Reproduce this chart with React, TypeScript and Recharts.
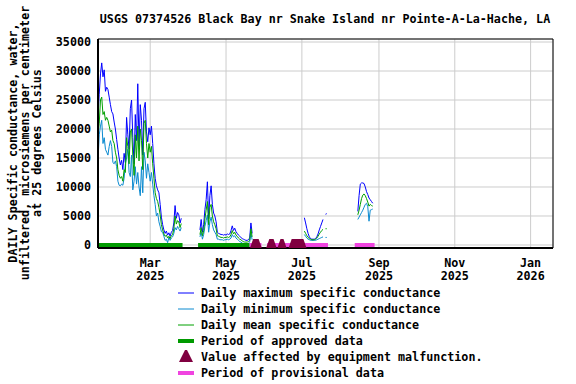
import React from "react";
import {
  ComposedChart, Line, Scatter, XAxis, YAxis, CartesianGrid, ReferenceArea,
} from "recharts";

const FONT = "'DejaVu Sans Mono', monospace";

// x is counted in days from 2025-01-18
const dayMin = 0;
const dayMax = 366;
const tickDays = [42, 103, 164, 226, 287, 348];
const tickMonths = ["Mar", "May", "Jul", "Sep", "Nov", "Jan"];
const tickYears = ["2025", "2025", "2025", "2025", "2025", "2026"];
const yTicks = [0, 5000, 10000, 15000, 20000, 25000, 30000, 35000];

// daily values, microsiemens/cm
const seg1Start = 0;
const seg1Max = [22000, 26000, 29500, 31400, 29000, 30200, 26500, 27200, 26800, 25500, 24200, 23000, 22600, 21200, 20000, 18200, 16500, 15000, 13800, 14600, 13000, 15800, 14200, 22000, 19000, 16500, 23500, 25000, 18500, 14000, 22500, 18000, 27800, 17000, 24200, 21500, 15500, 23500, 24600, 19500, 17800, 20200, 19000, 20500, 17500, 14000, 11500, 10200, 9500, 9000, 7000, 4800, 3500, 2600, 2000, 2400, 1700, 2100, 1500, 2200, 2500, 3800, 6800, 4600, 5600, 5200, 3800, 4600];
const seg1Mean = [19000, 21000, 25000, 25500, 22500, 23000, 21500, 22000, 21500, 20500, 19500, 19800, 18000, 17500, 16000, 15000, 13000, 12000, 11500, 11800, 11000, 13000, 12500, 18500, 17000, 14000, 19500, 20000, 15500, 12000, 19000, 15000, 20500, 14500, 20000, 18000, 13000, 21000, 21500, 17500, 15000, 17500, 16000, 17000, 14000, 11500, 9000, 8000, 7500, 6500, 5200, 3500, 2600, 1900, 1500, 1700, 1200, 1500, 1100, 1600, 1800, 2800, 5000, 3600, 4200, 4000, 3000, 3700];
const seg1Min = [14500, 19000, 20500, 21500, 17500, 18500, 16500, 16000, 15500, 17000, 18000, 17000, 14200, 14000, 14500, 13500, 11000, 10300, 10200, 10500, 10300, 11500, 14000, 15000, 16500, 12500, 11800, 15500, 9500, 11000, 13500, 10500, 12500, 10000, 8500, 13500, 9000, 16000, 14500, 11500, 14000, 12500, 11000, 12500, 10500, 8500, 7000, 5000, 5500, 4000, 3200, 2300, 2200, 1500, 800, 1000, 400, 1300, 800, 1200, 1400, 2000, 3000, 2600, 3200, 2800, 2400, 3000];

const seg2Start = 82;
const seg2Max = [2600, 4400, 2200, 3500, 6100, 7800, 10900, 4500, 8500, 10200, 7000, 5500, 5000, 4000, 2200, 2000, 1900, 1800, 1800, 1700, 1800, 1700, 1900, 1800, 1900, 2500, 3300, 2500, 2900, 2300, 2000, 1700, 1500, 1300, 1100, 1000, 900, 800, 800, 900, 1200, 3800, 2000];
const seg2Mean = [1800, 3000, 1600, 2500, 4500, 6000, 7500, 3500, 6500, 7000, 5000, 4000, 3500, 2800, 1600, 1500, 1400, 1300, 1300, 1200, 1300, 1300, 1400, 1300, 1400, 1800, 2500, 1900, 2200, 1700, 1500, 1200, 1000, 900, 700, 600, 500, 500, 500, 600, 800, 2800, 1400];
const seg2Min = [1400, 2200, 1000, 1800, 3200, 4200, 5200, 2200, 4000, 4800, 3500, 2600, 2200, 1800, 1000, 1000, 900, 900, 900, 800, 900, 900, 1000, 900, 1000, 1200, 1800, 1400, 1600, 1200, 1000, 800, 600, 500, 300, 300, 200, 200, 200, 300, 500, 2000, 900];

const seg3Start = 166;
const seg3Max = [4700, 3800, 2800, 2000, 1400, 1100, 1000, 1000, 1000, 1100, 1400, 1900, 2600, 3200, 3800, 4400, null, 5300, 5400];
const seg3Mean = [2400, 2000, 1600, 1300, 1100, 1000, 900, 900, 900, 1000, 1200, 1500, 1900, 2200, 2500, 2700, null, 2800, 2800];
const seg3Min = [1800, 1500, 1200, 1000, 900, 800, 800, 800, 800, 800, 900, 1000, 1100, 1200, 1300, 1400, null, 1300, 1300];

const seg4Start = 209;
const seg4Max = [5800, 8500, 10500, 10700, 10700, 10600, 10000, 9200, 8700, 8100, 7800, 7500, 7200];
const seg4Mean = [5200, 6000, 7000, 8000, 8600, 8800, 8500, 8000, 7400, 6700, 7000, 6800, 6700];
const seg4Min = [4400, 4800, 5200, 5600, 6000, 6500, 7000, 7200, 6600, 4100, 6000, 6100, 6200];

// qualifier periods [start day, end day]
const approvedPeriods = [[0, 68], [80.5, 122]];
const provisionalPeriods = [[122, 131.5], [136, 185], [206.5, 222.5]];
const malfunctionDays = [126, 127, 128, 139, 140, 148, 157, 158, 159, 160, 161, 162, 163, 164];

const segments = [
  { start: seg1Start, max: seg1Max, mean: seg1Mean, min: seg1Min },
  { start: seg2Start, max: seg2Max, mean: seg2Mean, min: seg2Min },
  { start: seg3Start, max: seg3Max, mean: seg3Mean, min: seg3Min },
  { start: seg4Start, max: seg4Max, mean: seg4Mean, min: seg4Min },
];

type Row = { d: number; max: number | null; mean: number | null; min: number | null };
const rows: Row[] = [];
for (let d = dayMin; d <= dayMax; d++) rows.push({ d, max: null, mean: null, min: null });
segments.forEach(s => {
  s.max.forEach((v, i) => {
    const r = rows[s.start + i];
    r.max = v;
    r.mean = s.mean[i];
    r.min = s.min[i];
  });
});

const periodData = (p: number[]) => [{ d: p[0], v: 0 }, { d: p[1], v: 0 }];
const malfData = malfunctionDays.map(d => ({ d, v: 0 }));

const BLUE = "#0000ff";
const LBLUE = "#0a8ad0";
const GREEN = "#00a000";
const BAR_GREEN = "#009a00";
const PINK = "#f044e0";
const MAROON = "#800040";

const textStyle = { fontFamily: FONT, fontSize: 11.7, fontWeight: 700, fill: "#000" };

function MonthTick(props: any) {
  const { x, y, payload } = props;
  const i = tickDays.indexOf(payload.value);
  return (
    <g>
      <text x={x} y={y + 19} textAnchor="middle" style={textStyle}>{tickMonths[i]}</text>
      <text x={x} y={y + 32} textAnchor="middle" style={textStyle}>{tickYears[i]}</text>
    </g>
  );
}

// malfunction marker: blunt triangle like the raster original
function Marker(props: any) {
  const { cx, cy } = props;
  return (
    <polygon
      points={`${cx - 5},${cy + 4} ${cx + 5},${cy + 4} ${cx + 1.5},${cy - 6} ${cx - 1.5},${cy - 6}`}
      fill={MAROON}
    />
  );
}

const legendItems = [
  { kind: "line", color: BLUE, label: "Daily maximum specific conductance" },
  { kind: "line", color: LBLUE, label: "Daily minimum specific conductance" },
  { kind: "line", color: GREEN, label: "Daily mean specific conductance" },
  { kind: "bar", color: BAR_GREEN, label: "Period of approved data" },
  { kind: "tri", color: MAROON, label: "Value affected by equipment malfunction." },
  { kind: "bar", color: PINK, label: "Period of provisional data" },
];

export default function App() {
  return (
    <div style={{ position: "absolute", left: 0, top: 0, width: 576, height: 384, background: "#fff" }}>
      <ComposedChart
        width={576}
        height={290}
        data={rows}
        margin={{ top: 39, right: 23, bottom: 6, left: 8 }}
      >
        <CartesianGrid stroke="#cccccc" strokeWidth={1} />
        <XAxis
          dataKey="d"
          type="number"
          domain={[dayMin, dayMax]}
          ticks={tickDays}
          tick={<MonthTick />}
          tickSize={0}
          tickMargin={0}
          height={36}
          axisLine={{ stroke: "#000", strokeWidth: 2 }}
          tickLine={false}
          allowDataOverflow
        />
        <YAxis
          type="number"
          domain={[-520, 35520]}
          ticks={yTicks}
          width={90}
          tickSize={5}
          tickMargin={2}
          tickLine={false}
          axisLine={{ stroke: "#000", strokeWidth: 2 }}
          tick={textStyle}
          allowDataOverflow
        />
        <ReferenceArea x1={dayMin} x2={dayMax} y1={-520} y2={35520} fill="none" stroke="#000" strokeWidth={1} />
        <Line dataKey="max" stroke={BLUE} strokeWidth={1} dot={false} isAnimationActive={false} />
        <Line dataKey="min" stroke={LBLUE} strokeWidth={1} dot={false} isAnimationActive={false} />
        <Line dataKey="mean" stroke={GREEN} strokeWidth={1} dot={false} isAnimationActive={false} />
        {approvedPeriods.map((p, i) => (
          <Line key={"a" + i} data={periodData(p)} dataKey="v" stroke={BAR_GREEN} strokeWidth={4} dot={false} isAnimationActive={false} />
        ))}
        <Scatter data={malfData} dataKey="v" shape={<Marker />} isAnimationActive={false} />
        {provisionalPeriods.map((p, i) => (
          <Line key={"p" + i} data={periodData(p)} dataKey="v" stroke={PINK} strokeWidth={4} dot={false} isAnimationActive={false} />
        ))}
      </ComposedChart>

      <svg width={576} height={384} style={{ position: "absolute", left: 0, top: 0, pointerEvents: "none" }}>
        <text x={325} y={23} textAnchor="middle" style={textStyle}>
          USGS 07374526 Black Bay nr Snake Island nr Pointe-A-La-Hache, LA
        </text>
        <g transform="translate(25,143) rotate(-90)">
          <text x={0} y={-12} textAnchor="middle" dominantBaseline="central" style={textStyle}>DAILY Specific conductance, water,</text>
          <text x={0} y={0} textAnchor="middle" dominantBaseline="central" style={textStyle}>unfiltered, microsiemens per centimeter</text>
          <text x={0} y={12} textAnchor="middle" dominantBaseline="central" style={textStyle}>at 25 degrees Celsius</text>
        </g>
        {legendItems.map((it, i) => {
          const cy = 293 + i * 16;
          return (
            <g key={i}>
              {it.kind === "line" && <line x1={178} x2={194} y1={cy} y2={cy} stroke={it.color} strokeWidth={1} />}
              {it.kind === "bar" && <rect x={178} y={cy - 2} width={16} height={4} fill={it.color} />}
              {it.kind === "tri" && <polygon points={`${179},${cy + 5} ${193},${cy + 5} ${187},${cy - 7} ${185},${cy - 7}`} fill={it.color} />}
              <text x={201} y={cy} dominantBaseline="central" style={textStyle}>{it.label}</text>
            </g>
          );
        })}
      </svg>
    </div>
  );
}
